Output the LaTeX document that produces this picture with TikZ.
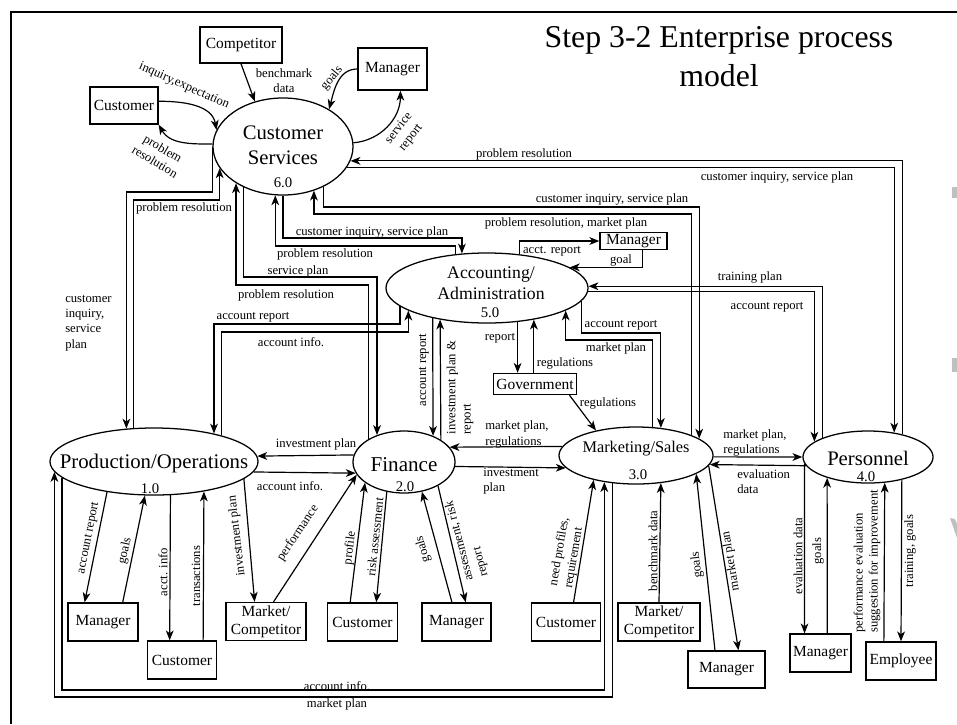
\documentclass[tikz,border=0pt]{standalone}
\usepackage{fontspec}
\setmainfont{Liberation Serif}
\usetikzlibrary{arrows.meta,shapes.geometric}

\tikzset{
  proc/.style={ellipse, draw, line width=0.9pt, inner sep=0pt},
  ptxt/.style={font=\fontsize{14.7}{17.8}\selectfont, align=center, inner sep=0pt},
  pnum/.style={font=\fontsize{10.5}{12}\selectfont, inner sep=0pt},
  ent/.style={draw, line width=1pt, inner sep=1pt, align=center, font=\fontsize{11}{12.5}\selectfont, minimum width=1.75cm, minimum height=0.95cm},
  flow/.style={line width=0.85pt, -{Stealth[length=7pt,width=5.5pt,inset=2pt]}},
  lbl/.style={font=\fontsize{9}{10.8}\selectfont, inner sep=0pt},
}

\begin{document}
\begin{tikzpicture}[x=0.025cm, y=-0.025cm]
\useasboundingbox (0,0) rectangle (957,724);

% Draw frame and title
\draw[line width=2pt] (957,12) -- (11,12) -- (11,724);
\node[font=\fontsize{22.6}{27.7}\selectfont, align=center, inner sep=0pt] (title) at (719,57) {Step 3-2 Enterprise process\\model};
\fill[gray!50] (952,187) rectangle (957,198);
\fill[gray!50] (952,358) rectangle (957,372);
\fill[gray!50] (950,518) -- (955,519) -- (957,524) -- (957,538) -- cycle;

% Draw processes
\node[proc, minimum width=3.5cm, minimum height=2.425cm] (cs) at (283,146.5) {};
\node[ptxt] (cs-t) at (283,145.5) {Customer\\Services};
\node[pnum] (cs-n) at (283,183) {6.0};

\node[proc, minimum width=5.05cm, minimum height=1.75cm] (acc) at (487,288) {};
\node[ptxt, font=\fontsize{12.6}{15}\selectfont] (acc-t) at (491,283.5) {Accounting/\\Administration};
\node[pnum] (acc-n) at (490,313) {5.0};

\node[proc, minimum width=5.2cm, minimum height=1.675cm] (po) at (154,461.5) {};
\node[ptxt, font=\fontsize{14.8}{17.8}\selectfont] (po-t) at (154,463) {Production/Operations};
\node[pnum] (po-n) at (150,489) {1.0};

\node[proc, minimum width=2.55cm, minimum height=1.55cm] (fin) at (404,462) {};
\node[ptxt, font=\fontsize{15}{18}\selectfont] (fin-t) at (404,465) {Finance};
\node[pnum] (fin-n) at (405,487) {2.0};

\node[proc, minimum width=3.85cm, minimum height=1.425cm] (ms) at (636,455.5) {};
\node[ptxt, font=\fontsize{11.6}{14}\selectfont] (ms-t) at (636,449) {Marketing/Sales};
\node[pnum] (ms-n) at (638,475) {3.0};

\node[proc, minimum width=3.25cm, minimum height=1.3cm] (per) at (868,457) {};
\node[ptxt] (per-t) at (868,458) {Personnel};
\node[pnum] (per-n) at (866,477) {4.0};

% Draw external entities
\node[ent, minimum width=2.05cm, minimum height=0.9cm] (comp) at (241,45) {Competitor};
\node[ent, minimum width=1.725cm, minimum height=1.05cm] (mgrt) at (392.5,69) {Manager};
\node[ent, minimum width=1.7cm, minimum height=0.925cm] (cust) at (124,105.5) {Customer};
\node[ent, minimum width=1.675cm, minimum height=0.425cm, inner sep=0pt] (mgra) at (633.5,241) {Manager};
\node[ent, minimum width=2.075cm, minimum height=0.525cm, inner sep=0pt] (gov) at (535,384) {Government};
\node[ent] (mgrp) at (103,622) {Manager};
\node[ent, minimum width=1.725cm] (cusp) at (182,660) {Customer};
\node[ent, minimum width=2cm] (mc1) at (266,621.5) {Market/\\Competitor};
\node[ent] (cusf) at (362.5,622) {Customer};
\node[ent, minimum width=1.725cm] (mgrf) at (456.5,622) {Manager};
\node[ent, minimum width=1.725cm] (cusm) at (566,622) {Customer};
\node[ent, minimum width=2.05cm] (mc2) at (659,622) {Market/\\Competitor};
\node[ent, minimum width=1.925cm, minimum height=0.925cm] (mgrm) at (726.5,669.5) {Manager};
\node[ent, minimum width=1.525cm] (mgrpe) at (820.5,653) {Manager};
\node[ent] (emp) at (901,661) {Employee};

% Flows around customer services
\draw[flow] (comp.south) -- (cs.122.2);
\draw[flow] (mgrt.west) to[out=180,in=75] (cs.39.6);
\draw[flow] (cs.3.7) to[out=5,in=-90] (mgrt.-70.3);
\draw[flow] (cust.7.5) to[out=0,in=100] (cs.166);
\draw[flow] (cs.178) to[out=180,in=-60] (cust.-29.3);

% Customer services to the other processes
\draw[flow] (per.33.1) |- (cs.-12.25);
\draw[flow] (cs.-18.9) -| (per.43.8);
\draw[flow] (cs.-45.9) -- (cs.-45.9 |- 0,207) -| (ms.15.2);
\draw[flow] (ms.20.6) -- (ms.20.6 |- 0,214) -| (cs.-55.6);
\draw[flow] (cs.south) -- (cs.south |- 0,238) -| (acc.126.4);
\draw[flow] (acc.133.9) -- (acc.133.9 |- 0,246) -| (cs.-99.4);
\draw[flow] (cs.-134.1) -- (cs.-134.1 |- 0,277) -| (fin.135.8);
\draw[flow] (fin.147.3) -- (fin.147.3 |- 0,285) -| (cs.-142.6);
\draw[flow] (cs.west) -- (cs.west |- 0,192) -| (po.130.9);
\draw[flow] (po.122.6) -- (po.122.6 |- 0,200) -| (cs.-161.5);

% Accounting flows
\draw[flow] (acc.-168.4) -- (acc.-168.4 |- 0,324) -| (po.25.6);
\draw[flow] (po.21.9) -- (po.21.9 |- 0,332) -| (acc.-164.6);
\draw[flow] (acc.-151.9) -- (fin.42.8);
\draw[flow] (fin.31.4) -- (acc.-146.6);
\draw[flow] (acc.-48.1) -- (acc.-48.1 |- gov.north);
\draw[flow] (acc.-34.1 |- gov.north) -- (acc.-34.1);
\draw[flow] (gov.-18.4) -- (ms.148);
\draw[flow] (acc.46) |- (mgra.west);
\draw[flow] (mgra.-45) |- (acc.14.6);
\draw[flow] (per.157.3) |- (acc.1.7);
\draw[flow] (acc.-2.9) -| (per.164.1);
\draw[flow] (acc.-8.35) -- (acc.-8.35 |- 0,333) -| (ms.48.5);
\draw[flow] (ms.60.2) -- (ms.60.2 |- 0,340) -| (acc.-16.4);

% Flows along the middle row
\draw[flow] (fin.172) -- (po.3.6);
\draw[flow] (po.-6.7) -- (fin.-167);
\draw[flow] (ms.173.4) -- (fin.18.6);
\draw[flow] (fin.-5.7) -- (ms.-170.7);
\draw[flow] (ms.-1.1) -- (per.west);
\draw[flow] (per.-172.6) -- (ms.-7.5);
\draw[flow] (po.-170.4) -- (po.-170.4 |- 0,690) -| (ms.-140);
\draw[flow] (ms.-130.2) -- (ms.-130.2 |- 0,697) -| (po.-174.7);

% Flows to the lower entities
\draw[flow] (po.-147.5) -- (mgrp.133.5);
\draw[flow] (mgrp.45) -- (po.-105.1);
\draw[flow] (po.-64.2) -- (cusp.122.3);
\draw[flow] (cusp.43.5) -- (po.-31.7);
\draw[flow] (po.-11.9) -- (mc1.120);
\draw[flow] (mc1.69.8) -- (fin.-165.7);
\draw[flow] (cusf.122.3) -- (fin.-152.9);
\draw[flow] (fin.-120.2) -- (cusf.55.6);
\draw[flow] (mgrf.103.3) -- (fin.-59.8);
\draw[flow] (fin.-35.6) -- (mgrf.65.9);
\draw[flow] (cusm.69.8) -- (ms.-150.4);
\draw[flow] (mc2.north) -- (ms.-48.5);
\draw[flow] (mgrm.121.9) -- (ms.-17.2);
\draw[flow] (ms.-8.8) -- (mgrm.58.1);
\draw[flow] (per.-174.2) -- (mgrpe.129.2);
\draw[flow] (mgrpe.71.1) -- (per.-153.8);
\draw[flow] (emp.131.8) -- (per.-57.6);
\draw[flow] (per.-34.2) -- (emp.north);

% Labels, top
\node[lbl, align=center] (l-bm) at (284,81) {benchmark\\data};
\node[lbl, rotate=50] (l-gt) at (332,78) {goals};
\node[lbl, rotate=52, align=center] (l-sr) at (405,133) {service\\report};
\node[lbl, rotate=-24] (l-ie) at (184,86) {inquiry,expectation};
\node[lbl, rotate=-31, align=center] (l-pr) at (159,155) {problem\\resolution};

% Labels on long flows
\node[lbl] (l-pr1) at (524,154) {problem resolution};
\node[lbl] (l-ci1) at (777,177) {customer inquiry, service plan};
\node[lbl] (l-ci2) at (612,199) {customer inquiry, service plan};
\node[lbl] (l-prm) at (566,223) {problem resolution, market plan};
\node[lbl] (l-ci3) at (372,232) {customer inquiry, service plan};
\node[lbl] (l-pr2) at (325,254) {problem resolution};
\node[lbl] (l-sp) at (298,271) {service plan};
\node[lbl] (l-pr3) at (286,295) {problem resolution};
\node[lbl] (l-pr4) at (184,208) {problem resolution};
\node[lbl, align=left, anchor=west] (l-cisp) at (65,323) {customer\\inquiry,\\service\\plan};
\node[lbl] (l-ar1) at (253,317) {account report};
\node[lbl] (l-ai1) at (291,342) {account info.};
\node[lbl, rotate=90] (l-ar2) at (424,370) {account report};
\node[lbl, rotate=90, align=left] (l-ipr) at (460,387.5) {investment plan \&\\report};
\node[lbl] (l-rep) at (500,338) {report};
\node[lbl] (l-reg1) at (565,363) {regulations};
\node[lbl] (l-reg2) at (608,403) {regulations};
\node[lbl] (l-acr) at (552,251) {acct. report};
\node[lbl] (l-goal) at (621,260) {goal};
\node[lbl] (l-tp) at (750,277) {training plan};
\node[lbl] (l-ar3) at (767,307) {account report};
\node[lbl] (l-ar4) at (621,325) {account report};
\node[lbl] (l-mp1) at (616,348) {market plan};

% Labels, middle row
\node[lbl] (l-ip1) at (316,444) {investment plan};
\node[lbl] (l-ai2) at (290,486) {account info.};
\node[lbl, align=left, anchor=west] (l-mpr1) at (485,434.5) {market plan,\\regulations};
\node[lbl, align=left, anchor=west] (l-ip2) at (483,481) {investment\\plan};
\node[lbl, align=left, anchor=west] (l-mpr2) at (723,443) {market plan,\\regulations};
\node[lbl, align=left, anchor=west] (l-ed1) at (737,481.5) {evaluation\\data};
\node[lbl] (l-ai3) at (337,686) {account info.};
\node[lbl] (l-mp2) at (337,704) {market plan};

% Labels, lower row
\node[lbl, rotate=78.7] (l-ar5) at (89,538) {account report};
\node[lbl, rotate=77.6] (l-g1) at (125,551) {goals};
\node[lbl, rotate=90] (l-ai4) at (163,572) {acct. info};
\node[lbl, rotate=90] (l-tr) at (196,576) {transactions};
\node[lbl, rotate=96.5] (l-ip3) at (237,536) {investment plan};
\node[lbl, rotate=56] (l-perf) at (298,533) {performance};
\node[lbl, rotate=82.9] (l-prof) at (350,548) {profile};
\node[lbl, rotate=83.9] (l-ra) at (375,537) {risk assessment};
\node[lbl, rotate=105.7] (l-g2) at (423,549) {goals};
\node[lbl, rotate=104.5, align=left] (l-arr) at (467,539) {assessment, risk\\report};
\node[lbl, rotate=80.3, align=left] (l-npr) at (567,553) {need profiles,\\requirement};
\node[lbl, rotate=90] (l-bd) at (653,551) {benchmark data};
\node[lbl, rotate=96.4] (l-g3) at (697,565) {goals};
\node[lbl, rotate=99.5] (l-mp3) at (731,561) {market plan};
\node[lbl, rotate=90] (l-ed2) at (798,556) {evaluation data};
\node[lbl, rotate=90] (l-g4) at (818,551) {goals};
\node[lbl, rotate=90, align=left] (l-pes) at (867,561.5) {performance evaluation\\suggestion for improvement};
\node[lbl, rotate=90] (l-tg) at (910,551) {training, goals};
\end{tikzpicture}
\end{document}
